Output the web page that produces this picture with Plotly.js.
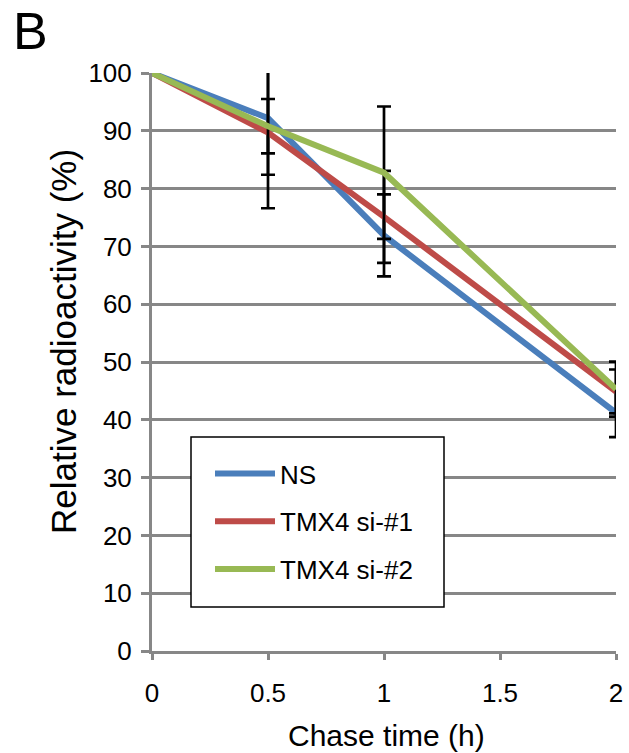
<!DOCTYPE html>
<html>
<head>
<meta charset="utf-8">
<script src="https://cdn.plot.ly/plotly-3.0.1.min.js"></script>
<style>html,body{margin:0;padding:0;background:#fff;}#chart{width:629px;height:753px;}</style>
</head>
<body>
<div id="chart"></div>
<script>
// Data
const chaseTime = [0, 0.5, 1, 2];
const seriesNames = ["NS", "TMX4 si-#1", "TMX4 si-#2"];
const nsValues = [100, 92.2, 71.9, 41.2];
const si1Values = [100, 89.7, 75.1, 44.9];
const si2Values = [100, 90.8, 82.75, 45.3];
const nsErr = [null, 9.8, 7.1, 4.2];
const si1Err = [null, 13.1, 7.95, 3.8];
const si2Err = [null, 4.7, 11.45, 4.75];
const xTicks = [0, 0.5, 1, 1.5, 2];
const xTickText = ["0", "0.5", "1", "1.5", "2"];
const yTicks = [0, 10, 20, 30, 40, 50, 60, 70, 80, 90, 100];

const colors = ["#4a7ebb", "#be4b48", "#98b954"];
const FONT = "Liberation Sans, Arial, Helvetica, sans-serif";
const valuesList = [nsValues, si1Values, si2Values];
const errList = [nsErr, si1Err, si2Err];

const traces = seriesNames.map((name, i) => ({
  type: "scatter",
  mode: "lines",
  x: chaseTime,
  y: valuesList[i],
  name: name,
  legendgroup: "g" + i,
  line: {color: colors[i], width: 6},
  error_y: {type: "data", array: errList[i], visible: true, color: "#000000", thickness: 2.7, width: 7}
}));

// pixel helpers for placing decorations (plot area: x 152..616, y 73..651)
const px = v => (v - 152) / 464;
const py = v => (651 - v) / 578;

const layout = {
  width: 629, height: 753,
  paper_bgcolor: "#ffffff", plot_bgcolor: "#ffffff",
  margin: {l: 152, r: 13, t: 73, b: 102, pad: 0},
  font: {family: FONT, color: "#000000", size: 26},
  showlegend: true,
  legend: {
    x: px(210), xanchor: "left", y: py(450), yanchor: "top",
    bgcolor: "rgba(0,0,0,0)", borderwidth: 0,
    font: {family: FONT, size: 26, color: "#000000"},
    tracegroupgap: 11, itemwidth: 60, traceorder: "grouped"
  },
  xaxis: {
    range: [0, 2], tickvals: xTicks, ticktext: xTickText,
    showgrid: false, zeroline: false,
    showline: true, linecolor: "#878787", linewidth: 3,
    ticks: "outside", ticklen: 6, tickwidth: 3, tickcolor: "#878787",
    ticklabelstandoff: 11,
    tickfont: {family: FONT, size: 26, color: "#000000"},
    automargin: false, fixedrange: true
  },
  yaxis: {
    range: [0, 100], tickvals: yTicks,
    showgrid: true, gridcolor: "#878787", gridwidth: 3, zeroline: false,
    showline: true, linecolor: "#878787", linewidth: 3,
    ticks: "outside", ticklen: 8, tickwidth: 3, tickcolor: "#878787",
    ticklabelstandoff: 4,
    tickfont: {family: FONT, size: 26, color: "#000000"},
    automargin: false, fixedrange: true
  },
  shapes: [{
    type: "rect", xref: "paper", yref: "paper", layer: "above",
    x0: px(191), x1: px(444), y0: py(607), y1: py(437),
    fillcolor: "#ffffff", line: {color: "#000000", width: 1.5}
  }],
  annotations: [
    {
      text: "B", xref: "paper", yref: "paper", x: px(11), y: 1.126,
      xanchor: "left", yanchor: "top", showarrow: false,
      font: {family: FONT, size: 52, color: "#000000"}
    },
    {
      text: "Relative radioactivity (%)", xref: "paper", yref: "paper",
      x: px(63), y: py(342), xanchor: "center", yanchor: "middle", textangle: -90,
      showarrow: false, font: {family: FONT, size: 35, color: "#000000"}
    },
    {
      text: "Chase time (h)", xref: "paper", yref: "paper",
      x: px(386), y: py(735), xanchor: "center", yanchor: "middle",
      showarrow: false, font: {family: FONT, size: 30, color: "#000000"}
    }
  ]
};

Plotly.newPlot("chart", traces, layout, {staticPlot: true, displayModeBar: false});
</script>
</body>
</html>
